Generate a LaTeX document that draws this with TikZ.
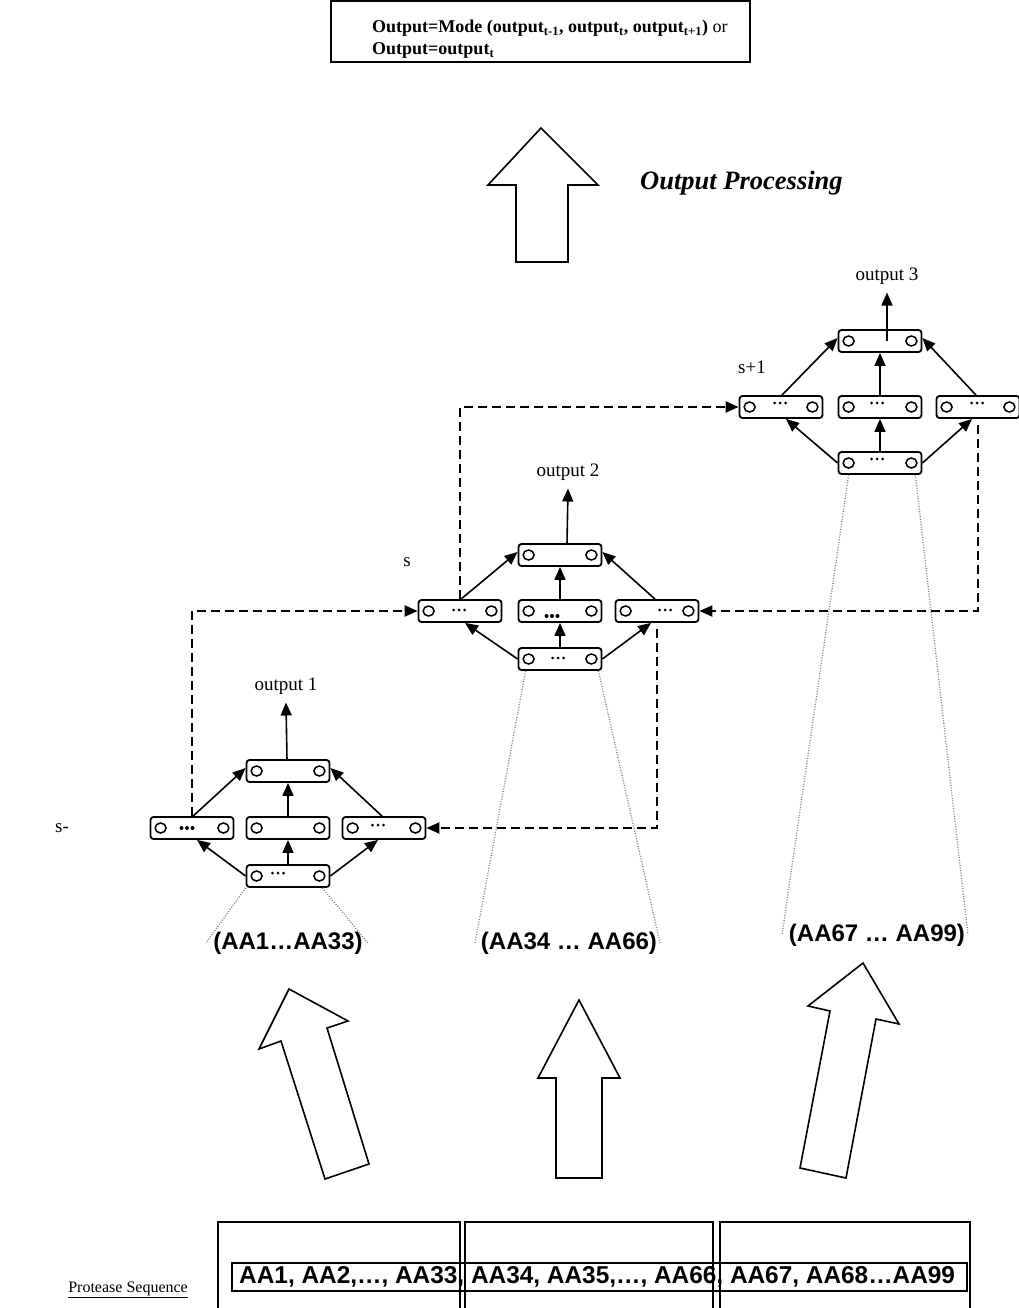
\documentclass[tikz,border=0pt]{standalone}
\usepackage{fontspec}
\setmainfont{Liberation Serif}
\newfontfamily\arialf{Liberation Sans}
\usetikzlibrary{arrows.meta,calc}
\newcommand\nbx[3]{%
  \node[nbox] (#1) at (#2,#3) {};
  \draw[ncirc] ([xshift=11pt]#1.west) ellipse [x radius=5.5, y radius=5];
  \draw[ncirc] ([xshift=-11pt]#1.east) ellipse [x radius=5.5, y radius=5];}
\newcommand\ndots[4]{%
  \foreach \k in {-5.5,0,5.5}{\fill ($(#1.center)+(#2+\k,#3)$) circle [radius=#4];}}
% name prefix, xl, xc, xr, yt, ym, yb, output-arrow x
\newcommand\netw[8]{%
  \nbx{#1t}{#3}{#5}
  \nbx{#1l}{#2}{#6}
  \nbx{#1m}{#3}{#6}
  \nbx{#1r}{#4}{#6}
  \nbx{#1b}{#3}{#7}
  \draw[narr] (#1b.west) -- ([xshift=5pt]#1l.south);
  \draw[narr] (#1b.north) -- (#1m.south);
  \draw[narr] (#1b.east) -- ([xshift=-6pt]#1r.south);
  \draw[narr] ([xshift=1pt]#1l.north) -- ([yshift=3pt]#1t.west);
  \draw[narr] (#1m.north) -- (#1t.south);
  \draw[narr] ([xshift=-2pt]#1r.north) -- ([yshift=3pt]#1t.east);
  \coordinate (#1o) at (#8,#5);}
\begin{document}
\begin{tikzpicture}[x=1pt,y=-1pt,
  nbox/.style={draw,line width=1.8pt,rounded corners=3pt,minimum width=83pt,minimum height=22pt,inner sep=0pt},
  ncirc/.style={line width=1.5pt},
  narr/.style={line width=1.6pt,-{Triangle[length=13pt,width=11pt]}},
  dsh/.style={line width=2.2pt,dash pattern=on 9pt off 5pt,-{Triangle[length=13pt,width=11pt]}},
  dot/.style={gray,line width=1.3pt,dash pattern=on 1pt off 1.6pt},
  bigarrow/.style={draw,line width=1.6pt,line join=miter,fill=white},
  tlab/.style={font=\fontsize{19}{21}\selectfont,inner sep=0pt},
  aalab/.style={font=\arialf\bfseries\fontsize{24}{26}\selectfont,inner sep=1pt}]
\useasboundingbox (0,0) rectangle (1018,1308);
% top box
\draw[line width=1.6pt] (331,1) rectangle (750,62);
\node[anchor=base west,inner sep=0pt,font=\fontsize{18}{20}\selectfont\bfseries] (topl1) at (372,33)
  {Output=Mode (output\textsubscript{t-1}, output\textsubscript{t}, output\textsubscript{t+1})\mdseries{} or};
\node[anchor=base west,inner sep=0pt,font=\fontsize{18}{20}\selectfont\bfseries] (topl2) at (372,55)
  {Output=output\textsubscript{t}};
% output processing arrow
\draw[bigarrow] (541,128) -- (598,185) -- (568,185) -- (568,262) -- (516,262) -- (516,185) -- (488,185) -- cycle;
\node[anchor=west,inner sep=0pt,font=\fontsize{26.5}{28}\selectfont\bfseries\itshape] (op) at (640,183) {Output Processing};
% networks
\netw{a}{192}{288}{384}{771}{828}{876}{287}
\netw{c}{460}{560}{657}{555}{611}{659}{567}
\netw{e}{781}{880}{978}{341}{407}{463}{887}
% dots
\ndots{al}{-5}{0}{2}
\ndots{ar}{-6}{-3}{1.5}
\ndots{ab}{-10}{-3}{1.5}
\ndots{cl}{-1}{-1}{1.5}
\ndots{cm}{-8}{5}{2}
\ndots{cr}{8}{-1}{1.5}
\ndots{cb}{-2}{-1}{1.5}
\ndots{el}{-1}{-4}{1.5}
\ndots{em}{-3}{-4}{1.5}
\ndots{er}{-1}{-4}{1.5}
\ndots{eb}{-3}{-4}{1.5}
% outputs
\node[tlab] (o1) at (286,686) {output 1};
\node[tlab] (o2) at (568,472) {output 2};
\node[tlab] (o3) at (887,276) {output 3};
\draw[narr] (ao) ++(0,-11) -- ([yshift=-8pt]o1.south);
\draw[narr] (co) ++(0,-11) -- ([yshift=-8pt]o2.south);
\draw[narr] (eo) -- ([yshift=-8pt]o3.south);
% level labels
\node[tlab] (s1) at (62,828) {s-};
\node[tlab] (s2) at (407,562) {s};
\node[tlab] (s3) at (752,367) {s+1};
% dashed connectors
\draw[dsh] (al.north) |- (cl.west);
\draw[dsh] ([yshift=-6pt]cr.south) |- (ar.east);
\draw[dsh] (cl.north) |- (el.west);
\draw[dsh] ([yshift=-6pt]er.south) |- (cr.east);
% segment labels
\node[aalab] (g1) at (288,943) {(AA1…AA33)};
\node[aalab] (g2) at (569,943) {(AA34 … AA66)};
\node[aalab] (g3) at (877,935) {(AA67 … AA99)};
% dotted projection lines
\draw[dot] ([xshift=0pt]ab.south west) -- (206,943);
\draw[dot] ([xshift=-8pt]ab.south east) -- (368,943);
\draw[dot] ([xshift=8pt]cb.south west) -- (475,943);
\draw[dot] ([xshift=-4pt]cb.south east) -- (660,943);
\draw[dot] ([xshift=11pt]eb.south west) -- (782,935);
\draw[dot] ([xshift=-7pt]eb.south east) -- (968,935);
% big input arrows
\draw[bigarrow] (289,989) -- (348,1021) -- (327,1028) -- (369,1164) -- (325,1179) -- (281,1041) -- (259,1049) -- cycle;
\draw[bigarrow] (579,1000) -- (620,1078) -- (602,1078) -- (602,1178) -- (556,1178) -- (556,1078) -- (538,1078) -- cycle;
\draw[bigarrow] (863,963) -- (899,1024) -- (876,1019) -- (846,1178) -- (800,1168) -- (830,1011) -- (808,1006) -- cycle;
% sequence table
\draw[line width=1.6pt] (218,1330) -- (218,1222) -- (460,1222) -- (460,1330);
\draw[line width=1.6pt] (465,1330) -- (465,1222) -- (713,1222) -- (713,1330);
\draw[line width=1.6pt] (720,1330) -- (720,1222) -- (970,1222) -- (970,1330);
\draw[line width=2.2pt] (232,1263) rectangle (967,1291);
\node[anchor=west,inner sep=0pt,font=\arialf\bfseries\fontsize{24.4}{26}\selectfont] (seq) at (239,1277)
  {AA1, AA2,…, AA33, AA34, AA35,…, AA66, AA67, AA68…AA99};
\node[anchor=base east,inner sep=0pt,font=\fontsize{16}{18}\selectfont] (ps) at (188,1292) {\underline{Protease Sequence}};
\end{tikzpicture}
\end{document}
